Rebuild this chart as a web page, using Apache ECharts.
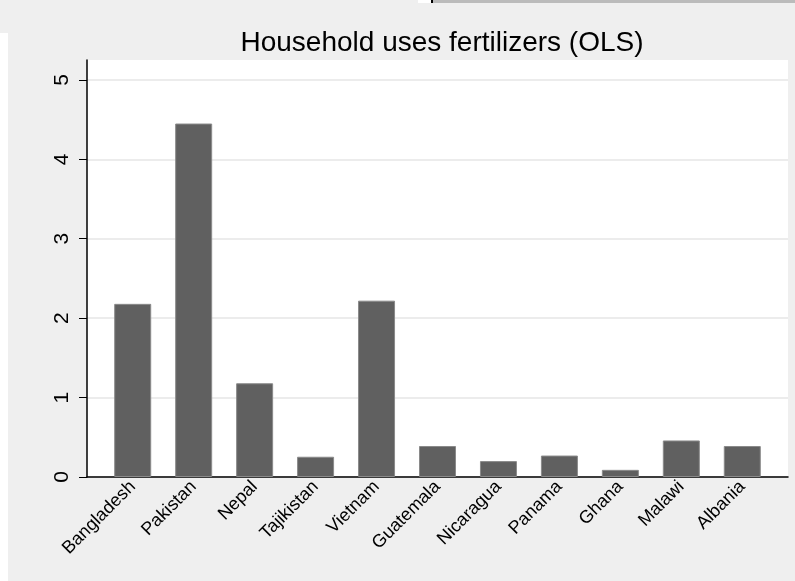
<!DOCTYPE html>
<html>
<head>
<meta charset="utf-8">
<script src="https://cdn.jsdelivr.net/npm/echarts@6/dist/echarts.min.js"></script>
<style>
html,body{margin:0;padding:0;background:#efefef;overflow:hidden;}
#chart{width:795px;height:581px;}
</style>
</head>
<body>
<div id="chart"></div>
<script>
const categories = ['Bangladesh','Pakistan','Nepal','Tajikistan','Vietnam','Guatemala','Nicaragua','Panama','Ghana','Malawi','Albania'];
const values = [2.18, 4.45, 1.18, 0.255, 2.22, 0.39, 0.20, 0.27, 0.09, 0.46, 0.39];
const yTicks = [0, 1, 2, 3, 4, 5];
const titleText = 'Household uses fertilizers (OLS)';

const FONT = "'Liberation Sans', Arial, Helvetica, sans-serif";
const chart = echarts.init(document.getElementById('chart'), null, {renderer: 'canvas'});
const idx = categories.map((c, i) => i);

chart.setOption({
  backgroundColor: '#efefef',
  animation: false,
  title: {
    text: titleText,
    left: 437, textAlign: 'center',
    top: 24,
    textStyle: {fontFamily: FONT, fontSize: 28, fontWeight: 'normal', color: '#000'}
  },
  graphic: [
    {type: 'rect', shape: {x: 0, y: 33, width: 8, height: 548}, style: {fill: '#ffffff'}},
    {type: 'rect', shape: {x: 418, y: 0, width: 13, height: 3}, style: {fill: '#ffffff'}},
    {type: 'rect', shape: {x: 431, y: 0, width: 2, height: 3}, style: {fill: '#000000'}},
    {type: 'rect', shape: {x: 433, y: 0, width: 362, height: 3}, style: {fill: '#bbbbbb'}}
  ],
  grid: {left: 87, right: 7, top: 60, bottom: 104, show: true, backgroundColor: '#ffffff', borderWidth: 0},
  xAxis: {
    type: 'value',
    min: -0.75, max: 10.75,
    axisLine: {show: true, onZero: false, lineStyle: {color: '#000', width: 1.5}},
    axisTick: {show: false},
    splitLine: {show: false},
    axisLabel: {
      customValues: idx,
      formatter: v => categories[Math.round(v)],
      rotate: 45, margin: 7,
      fontFamily: FONT, fontSize: 18, color: '#000'
    }
  },
  yAxis: {
    type: 'value',
    min: 0, max: 5.25,
    axisLine: {show: true, onZero: false, lineStyle: {color: '#000', width: 1.5}},
    axisTick: {show: true, customValues: yTicks, length: 8, lineStyle: {color: '#000', width: 1}},
    splitLine: {show: true, lineStyle: {color: '#e6e6e6', width: 1.5}},
    axisLabel: {
      customValues: yTicks,
      rotate: 90, margin: 14,
      fontFamily: FONT, fontSize: 21, color: '#000'
    }
  },
  series: [{
    type: 'bar',
    data: values.map((v, i) => [i, v]),
    barWidth: 37,
    itemStyle: {color: '#606060', borderColor: '#8a8a8a', borderWidth: 1}
  }]
});
</script>
</body>
</html>
